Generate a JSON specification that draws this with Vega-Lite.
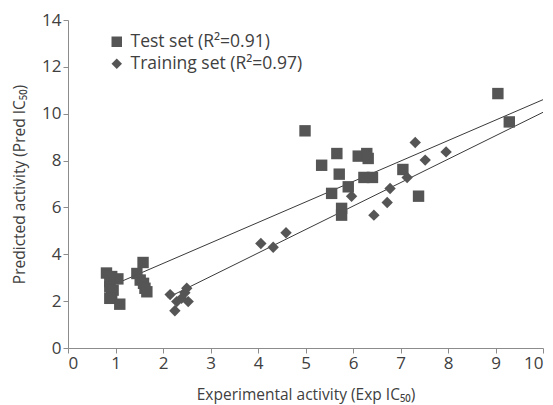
{
  "$schema": "https://vega.github.io/schema/vega-lite/v6.json",
  "width": 475,
  "height": 328,
  "autosize": {"type": "none"},
  "padding": {"left": 68, "top": 20, "right": 10, "bottom": 57},
  "background": "white",
  "config": {
    "view": {"stroke": null},
    "font": "Open Sans",
    "axis": {
      "grid": false,
      "domainColor": "#8c8c8c",
      "tickColor": "#8c8c8c",
      "tickSize": 5,
      "labelFont": "Open Sans",
      "labelFontSize": 17,
      "labelColor": "#404040",
      "titleFont": "Open Sans",
      "titleFontSize": 15.5,
      "titleFontWeight": "normal",
      "titleColor": "#404040"
    }
  },
  "datasets": {
    "pts": [
      {"set": "Test set", "exp": 0.81, "pred": 3.2},
      {"set": "Test set", "exp": 0.92, "pred": 3.05},
      {"set": "Test set", "exp": 1.05, "pred": 2.95},
      {"set": "Test set", "exp": 0.88, "pred": 2.83},
      {"set": "Test set", "exp": 0.88, "pred": 2.61},
      {"set": "Test set", "exp": 0.95, "pred": 2.47},
      {"set": "Test set", "exp": 0.92, "pred": 2.26},
      {"set": "Test set", "exp": 0.88, "pred": 2.12},
      {"set": "Test set", "exp": 1.09, "pred": 1.87},
      {"set": "Test set", "exp": 1.58, "pred": 3.65},
      {"set": "Test set", "exp": 1.45, "pred": 3.18},
      {"set": "Test set", "exp": 1.52, "pred": 2.9},
      {"set": "Test set", "exp": 1.59, "pred": 2.76},
      {"set": "Test set", "exp": 1.62, "pred": 2.55},
      {"set": "Test set", "exp": 1.66, "pred": 2.4},
      {"set": "Test set", "exp": 4.99, "pred": 9.27},
      {"set": "Test set", "exp": 5.66, "pred": 8.3},
      {"set": "Test set", "exp": 5.34, "pred": 7.8},
      {"set": "Test set", "exp": 5.71, "pred": 7.42},
      {"set": "Test set", "exp": 6.11, "pred": 8.19},
      {"set": "Test set", "exp": 6.29, "pred": 8.3},
      {"set": "Test set", "exp": 6.32, "pred": 8.09},
      {"set": "Test set", "exp": 6.23, "pred": 7.28},
      {"set": "Test set", "exp": 6.41, "pred": 7.28},
      {"set": "Test set", "exp": 5.9, "pred": 6.88},
      {"set": "Test set", "exp": 5.55, "pred": 6.6},
      {"set": "Test set", "exp": 5.76, "pred": 5.96},
      {"set": "Test set", "exp": 5.76, "pred": 5.67},
      {"set": "Test set", "exp": 7.05, "pred": 7.62},
      {"set": "Test set", "exp": 7.38, "pred": 6.48},
      {"set": "Test set", "exp": 9.05, "pred": 10.86},
      {"set": "Test set", "exp": 9.29, "pred": 9.65},
      {"set": "Training set", "exp": 2.15, "pred": 2.28},
      {"set": "Training set", "exp": 2.29, "pred": 1.98},
      {"set": "Training set", "exp": 2.25, "pred": 1.59},
      {"set": "Training set", "exp": 2.39, "pred": 2.12},
      {"set": "Training set", "exp": 2.46, "pred": 2.36},
      {"set": "Training set", "exp": 2.53, "pred": 1.98},
      {"set": "Training set", "exp": 2.5, "pred": 2.55},
      {"set": "Training set", "exp": 4.06, "pred": 4.46},
      {"set": "Training set", "exp": 4.32, "pred": 4.3},
      {"set": "Training set", "exp": 4.59, "pred": 4.92},
      {"set": "Training set", "exp": 5.97, "pred": 6.48},
      {"set": "Training set", "exp": 6.44, "pred": 5.67},
      {"set": "Training set", "exp": 6.72, "pred": 6.21},
      {"set": "Training set", "exp": 6.78, "pred": 6.81},
      {"set": "Training set", "exp": 7.14, "pred": 7.28},
      {"set": "Training set", "exp": 7.31, "pred": 8.77},
      {"set": "Training set", "exp": 7.52, "pred": 8.02},
      {"set": "Training set", "exp": 7.96, "pred": 8.37}
    ],
    "fits": [
      {"fit": "test", "exp": 0.8, "pred": 2.56},
      {"fit": "test", "exp": 10, "pred": 10.6},
      {"fit": "train", "exp": 2.1, "pred": 2.15},
      {"fit": "train", "exp": 10, "pred": 10.06}
    ]
  },
  "layer": [
    {
      "data": {"name": "fits"},
      "mark": {"type": "line", "color": "#3a3a3a", "strokeWidth": 1},
      "encoding": {
        "x": {"field": "exp", "type": "quantitative"},
        "y": {"field": "pred", "type": "quantitative"},
        "detail": {"field": "fit"}
      }
    },
    {
      "data": {"name": "pts"},
      "mark": {"type": "point", "filled": true, "opacity": 1},
      "encoding": {
        "x": {
          "field": "exp",
          "type": "quantitative",
          "scale": {"domain": [0, 10], "nice": false},
          "axis": {"values": [0,1,2,3,4,5,6,7,8,9,10], "title": "Experimental activity (Exp IC₅₀)", "titlePadding": 16}
        },
        "y": {
          "field": "pred",
          "type": "quantitative",
          "scale": {"domain": [0, 14], "nice": false},
          "axis": {"values": [0,2,4,6,8,10,12,14], "title": "Predicted activity (Pred IC₅₀)", "titlePadding": 14}
        },
        "shape": {
          "field": "set",
          "type": "nominal",
          "scale": {"domain": ["Test set", "Training set"], "range": ["square", "diamond"]},
          "legend": {
            "title": null,
            "orient": "none",
            "legendX": 40,
            "legendY": 13,
            "labelFontSize": 17.5,
            "labelColor": "#404040",
            "labelFont": "Open Sans",
            "labelOffset": 5,
            "labelLimit": 400,
            "symbolFillColor": "#555555",
            "symbolStrokeColor": "#555555",
            "symbolSize": 110,
            "rowPadding": 3,
            "labelExpr": "datum.label == 'Test set' ? 'Test set (R²=0.91)' : 'Training set (R²=0.97)'"
          }
        },
        "color": {"value": "#555555"},
        "size": {"value": 130}
      }
    }
  ]
}
